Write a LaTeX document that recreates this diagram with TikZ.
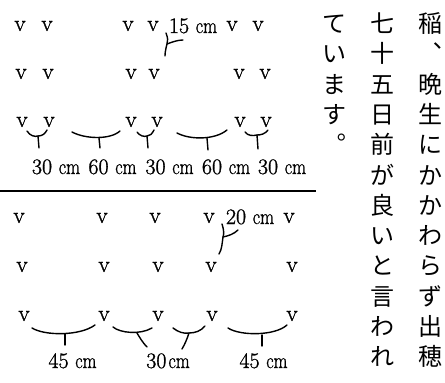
\documentclass[tikz,border=0pt]{standalone}
\usepackage{fontspec}
\usepackage{graphicx}
\newfontfamily\cjk{Noto Sans CJK JP}
\newfontfamily\lmheavy{Latin Modern Roman}[FakeBold=1.2]
\newcommand{\cmu}{\scalebox{0.82}[1]{cm}}
\begin{document}
\begin{tikzpicture}[x=1pt,y=-1pt,
  plant/.style={font=\lmheavy\fontsize{23}{23}\selectfont, inner sep=0pt},
  lab/.style={font=\lmheavy\fontsize{22}{22}\selectfont, inner sep=0pt, anchor=base},
  brk/.style={line width=1.4pt, line cap=round},
  jch/.style={font=\cjk\fontsize{24}{24}\selectfont, inner sep=0pt, anchor=base}]
\useasboundingbox (0,0) rectangle (445,383);

% ---- upper plan: 30/60 cm rows ----
\foreach \x [count=\i] in {20,47,128,153,232,258} \node[plant] (ta\i) at (\x,26) {v};
\foreach \x [count=\i] in {21,48,131,154,239,265} \node[plant] (tb\i) at (\x,74) {v};
\foreach \x [count=\i] in {22,49,131,157,240,266} \node[plant] (tc\i) at (\x,122) {v};

\node[lab] (l15) at (193,33) {15 \cmu};
\draw[brk] (166,33) .. controls (168,38) and (168,41) .. (167,44)
           .. controls (166,48) and (165,52) .. (165,56);
\draw[brk] (167,44) .. controls (172,42) and (178,40) .. (183,40);

% brackets under third row
\draw[brk] (27,131) .. controls (30,136) and (35,137) .. (38,136)
           .. controls (42,136) and (45,134) .. (47,130);
\draw[brk] (38,136) -- (39,148);
\draw[brk] (72,132) .. controls (85,139) and (110,140) .. (120,131);
\draw[brk] (99,138) -- (100,148);
\draw[brk] (137,132) .. controls (140,136) and (144,137) .. (147,136)
           .. controls (150,136) and (152,134) .. (154,130);
\draw[brk] (147,136) -- (148,148);
\draw[brk] (177,133) .. controls (190,140) and (215,140) .. (227,130);
\draw[brk] (207,138) -- (208,150);
\draw[brk] (245,132) .. controls (248,136) and (253,136) .. (257,135)
           .. controls (261,135) and (265,134) .. (268,130);
\draw[brk] (257,135) -- (258,149);

\node[lab] (t1) at (56,174) {30 \cmu};
\node[lab] (t2) at (112.5,174) {60 \cmu};
\node[lab] (t3) at (169.5,174) {30 \cmu};
\node[lab] (t4) at (226,174) {60 \cmu};
\node[lab] (t5) at (282,174) {30 \cmu};

% rule
\draw[line width=1.5pt] (0,191) -- (316,191);

% ---- lower plan: 45/30 cm rows ----
\foreach \x [count=\i] in {19,102,155,209,289} \node[plant] (ba\i) at (\x,218) {v};
\foreach \x [count=\i] in {22,104,158,211,292} \node[plant] (bb\i) at (\x,267) {v};
\foreach \x [count=\i] in {24,104,158,212,292} \node[plant] (bc\i) at (\x,316) {v};

\node[lab] (l20) at (250,224) {20 \cmu};
\draw[brk] (222,224) .. controls (224,230) and (224,234) .. (223,237)
           .. controls (222,244) and (222,249) .. (219,254);
\draw[brk] (223,237) .. controls (228,236) and (234,234) .. (238,230);

\draw[brk] (32,328) .. controls (45,336) and (80,336) .. (95,325);
\draw[brk] (65,334) -- (65,345);
\draw[brk] (113,327) .. controls (120,333) and (140,335) .. (152,328);
\draw[brk] (137,333) .. controls (140,338) and (143,343) .. (147,347);
\draw[brk] (173,328) .. controls (178,332) and (184,334) .. (189,333)
           .. controls (195,333) and (201,331) .. (205,326);
\draw[brk] (189,333) .. controls (187,339) and (185,344) .. (182,349);
\draw[brk] (228,328) .. controls (240,336) and (275,336) .. (287,325);
\draw[brk] (262,335) -- (262,346);

\node[lab] (b1) at (72.5,368) {45 \cmu};
\node[lab] (b2) at (168,368) {30\kern2pt\cmu};
\node[lab] (b3) at (263.5,368) {45 \cmu};

% ---- vertical Japanese text ----
\foreach \c [count=\i] in {稲,︑,晩,生,に,か,か,わ,ら,ず,出,穂}
  \node[jch] (ja\i) at (430,{32.5+(\i-1)*30.3}) {\c};
\foreach \c [count=\i] in {七,十,五,日,前,が,良,い,と,言,わ,れ}
  \node[jch] (jb\i) at (382,{32.5+(\i-1)*30.3}) {\c};
\foreach \c [count=\i] in {て,い,ま,す,︒}
  \node[jch] (jc\i) at (334,{32.5+(\i-1)*30.3}) {\c};
\end{tikzpicture}
\end{document}
